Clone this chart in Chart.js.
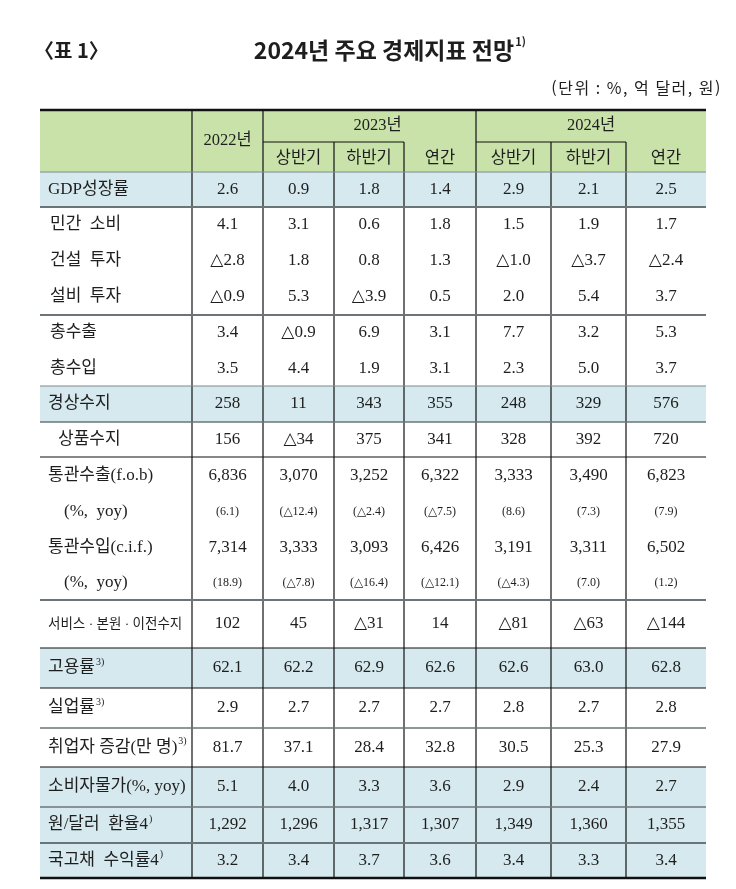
<!DOCTYPE html>
<html lang="ko">
<head>
<meta charset="UTF-8" />
<title>2024년 주요 경제지표 전망</title>
<script src="https://cdn.jsdelivr.net/npm/chart.js"></script>
<style>
  html, body { margin: 0; padding: 0; background: #fff; }
  canvas { display: block; }
</style>
</head>
<body>
<canvas id="table" width="736" height="889"></canvas>
<script>
// 표 머리
const yearLabels = ["2022년", "2023년", "2024년"];
const halfLabels = ["상반기", "하반기", "연간"];

// 행 이름 (윗첨자는 따로)
const rowLabels = [
  "GDP성장률", "민간  소비", "건설  투자", "설비  투자", "총수출", "총수입",
  "경상수지", "상품수지", "통관수출(f.o.b)", "(%,  yoy)", "통관수입(c.i.f.)", "(%,  yoy)",
  "서비스 · 본원 · 이전수지", "고용률", "실업률", "취업자 증감(만 명)",
  "소비자물가(%, yoy)", "원/달러  환율4", "국고채  수익률4"
];
const rowSup = ["", "", "", "", "", "", "", "", "", "", "", "", "", "3)", "3)", "3)", "", ")", ")"];

// 값 (음수는 △ 로 표시)
const v2022   = [2.6, 4.1, -2.8, -0.9, 3.4, 3.5, 258, 156, 6836, 6.1, 7314, 18.9, 102, 62.1, 2.9, 81.7, 5.1, 1292, 3.2];
const v2023h1 = [0.9, 3.1, 1.8, 5.3, -0.9, 4.4, 11, -34, 3070, -12.4, 3333, -7.8, 45, 62.2, 2.7, 37.1, 4.0, 1296, 3.4];
const v2023h2 = [1.8, 0.6, 0.8, -3.9, 6.9, 1.9, 343, 375, 3252, -2.4, 3093, -16.4, -31, 62.9, 2.7, 28.4, 3.3, 1317, 3.7];
const v2023   = [1.4, 1.8, 1.3, 0.5, 3.1, 3.1, 355, 341, 6322, -7.5, 6426, -12.1, 14, 62.6, 2.7, 32.8, 3.6, 1307, 3.6];
const v2024h1 = [2.9, 1.5, -1.0, 2.0, 7.7, 2.3, 248, 328, 3333, 8.6, 3191, -4.3, -81, 62.6, 2.8, 30.5, 2.9, 1349, 3.4];
const v2024h2 = [2.1, 1.9, -3.7, 5.4, 3.2, 5.0, 329, 392, 3490, 7.3, 3311, 7.0, -63, 63.0, 2.7, 25.3, 2.4, 1360, 3.3];
const v2024   = [2.5, 1.7, -2.4, 3.7, 5.3, 3.7, 576, 720, 6823, 7.9, 6502, 1.2, -144, 62.8, 2.8, 27.9, 2.7, 1355, 3.4];
const rowDecimals = [1, 1, 1, 1, 1, 1, 0, 0, 0, 1, 0, 1, 0, 1, 1, 1, 1, 0, 1];

const columns = [v2022, v2023h1, v2023h2, v2023, v2024h1, v2024h2, v2024];

// 레이아웃 (표 단위)
const colWidths = [152, 71, 71, 70, 72, 75, 75, 80];
const headHeights = [32, 30];
const rowHeights = [35, 36, 36, 36, 36, 35, 36, 35, 37, 36, 36, 34, 48, 40, 40, 39, 40, 36, 35];
const shadedRows = [0, 6, 13, 16, 17, 18];
const smallRows = [9, 11];
const labelIndent = [8, 10, 10, 10, 10, 10, 8, 18, 8, 24, 8, 24, 8, 8, 8, 8, 8, 8, 8];
// 각 행 아래 선: [색, 굵기]
const rowRules = [
  ["#6b7477", 2], null, null, ["#6b7477", 2], null, ["#7f8a8d", 1], ["#6b7477", 1.5], ["#111", 1.2],
  null, null, null, ["#6b7477", 2], ["#111", 1.2], ["#111", 1.2], ["#6b7477", 1.5], ["#111", 1.2],
  ["#6b7477", 1.5], ["#6b7477", 2], ["#111", 2.5]
];

const colEdges = [0];
colWidths.forEach((w) => colEdges.push(colEdges[colEdges.length - 1] + w));
const rowEdges = [0];
headHeights.concat(rowHeights).forEach((h) => rowEdges.push(rowEdges[rowEdges.length - 1] + h));
const totalW = colEdges[colEdges.length - 1];
const totalH = rowEdges[rowEdges.length - 1];

const SERIF = "'Liberation Serif', 'DejaVu Serif', 'Noto Sans CJK KR'";
const SANS = "'Noto Sans CJK KR', 'Noto Sans'";
const INK = "#1e1e1e";

function fmt(v, dec) {
  const s = Math.abs(v).toLocaleString("en-US", { minimumFractionDigits: dec, maximumFractionDigits: dec });
  return (v < 0 ? "△" : "") + s;
}

const tablePlugin = {
  id: "econTable",
  beforeDraw(chart) {
    const { ctx } = chart;
    const X = (v) => chart.scales.x.getPixelForValue(v);
    const Y = (v) => chart.scales.y.getPixelForValue(v);
    ctx.save();
    ctx.fillStyle = "#fff";
    ctx.fillRect(0, 0, chart.width, chart.height);
    // 머리 칸
    ctx.fillStyle = "#c9e2aa";
    ctx.fillRect(X(0), Y(0), X(totalW) - X(0), Y(rowEdges[2]) - Y(0));
    // 강조 행
    ctx.fillStyle = "#d5e9ee";
    shadedRows.forEach((r) => {
      const y0 = Y(rowEdges[r + 2]), y1 = Y(rowEdges[r + 3]);
      ctx.fillRect(X(0), y0, X(totalW) - X(0), y1 - y0);
    });
    ctx.restore();
  },
  afterDraw(chart) {
    const { ctx } = chart;
    const X = (v) => chart.scales.x.getPixelForValue(v);
    const Y = (v) => chart.scales.y.getPixelForValue(v);
    const line = (x0, y0, x1, y1, color, w) => {
      ctx.strokeStyle = color;
      ctx.lineWidth = w;
      ctx.beginPath();
      ctx.moveTo(x0, y0);
      ctx.lineTo(x1, y1);
      ctx.stroke();
    };
    ctx.save();

    // 제목
    ctx.fillStyle = INK;
    ctx.textBaseline = "middle";
    ctx.font = `bold 20px ${SANS}`;
    ctx.textAlign = "left";
    ctx.fillText("〈표 1〉", X(0) - 6, 50);
    ctx.font = `bold 23px ${SANS}`;
    ctx.textAlign = "center";
    const title = "2024년 주요 경제지표 전망";
    ctx.fillText(title, 384, 50);
    const tw = ctx.measureText(title).width;
    ctx.font = `bold 11px ${SANS}`;
    ctx.textAlign = "left";
    ctx.fillText("1)", 384 + tw / 2 + 1, 42);
    ctx.font = `16px ${SANS}`;
    ctx.letterSpacing = "1.5px";
    ctx.textAlign = "right";
    ctx.fillText("(단위 : %, 억 달러, 원)", 722, 88);
    ctx.letterSpacing = "0px";

    // 세로선
    const top = Y(0), mid = Y(rowEdges[1]), headBot = Y(rowEdges[2]), bot = Y(totalH);
    for (let c = 1; c < colEdges.length - 1; c++) {
      const full = [1, 2, 5].includes(c);
      line(X(colEdges[c]), full ? top : mid, X(colEdges[c]), bot, "#111", 1.2);
    }
    // 머리 가로선
    line(X(colEdges[2]), mid, X(colEdges[4]), mid, "#111", 1);
    line(X(colEdges[5]), mid, X(colEdges[7]), mid, "#111", 1);
    line(X(0), headBot, X(totalW), headBot, "#7f8a8d", 1);
    line(X(0), top, X(totalW), top, "#111", 2.5);
    rowRules.forEach((rule, r) => {
      if (!rule) return;
      const y = Y(rowEdges[r + 3]);
      line(X(0), y, X(totalW), y, rule[0], rule[1]);
    });

    // 머리 글자
    const cx = (a, b) => (X(colEdges[a]) + X(colEdges[b])) / 2;
    const y1 = (Y(0) + mid) / 2, y2 = (mid + headBot) / 2;
    ctx.fillStyle = INK;
    ctx.textAlign = "center";
    ctx.font = `16.5px ${SERIF}`;
    ctx.fillText(yearLabels[0], cx(1, 2), (top + headBot) / 2);
    ctx.fillText(yearLabels[1], cx(2, 5) + 8, y1);
    ctx.fillText(yearLabels[2], cx(5, 8), y1);
    ctx.font = `16.5px ${SANS}`;
    [2, 3, 4].forEach((c, i) => ctx.fillText(halfLabels[i], cx(c, c + 1), y2));
    [5, 6, 7].forEach((c, i) => ctx.fillText(halfLabels[i], cx(c, c + 1), y2));

    // 본문
    rowLabels.forEach((label, r) => {
      const yc = (Y(rowEdges[r + 2]) + Y(rowEdges[r + 3])) / 2;
      const small = smallRows.includes(r);
      ctx.textAlign = "left";
      ctx.font = r === 12 ? `13.5px ${SERIF}` : `17px ${SERIF}`;
      const lx = X(0) + labelIndent[r];
      const maxW = X(colEdges[1]) - lx - 6;
      ctx.fillText(label, lx, yc, maxW);
      if (rowSup[r]) {
        const w = Math.min(ctx.measureText(label).width, maxW);
        ctx.font = `10px ${SERIF}`;
        ctx.fillText(rowSup[r], lx + w + 1, yc - 6);
      }
      ctx.textAlign = "center";
      ctx.font = small ? `12px ${SERIF}` : `17px ${SERIF}`;
      columns.forEach((col, c) => {
        let s = fmt(col[r], rowDecimals[r]);
        if (small) s = "(" + s + ")";
        ctx.fillText(s, cx(c + 1, c + 2), yc);
      });
    });
    ctx.restore();
  }
};

new Chart(document.getElementById("table"), {
  type: "scatter",
  data: { datasets: [] },
  options: {
    responsive: false,
    animation: false,
    layout: { padding: { left: 40, right: 30, top: 110, bottom: 11 } },
    plugins: { legend: { display: false }, tooltip: { enabled: false } },
    scales: {
      x: { type: "linear", min: 0, max: totalW, display: false },
      y: { type: "linear", min: 0, max: totalH, reverse: true, display: false }
    }
  },
  plugins: [tablePlugin]
});
</script>
</body>
</html>
